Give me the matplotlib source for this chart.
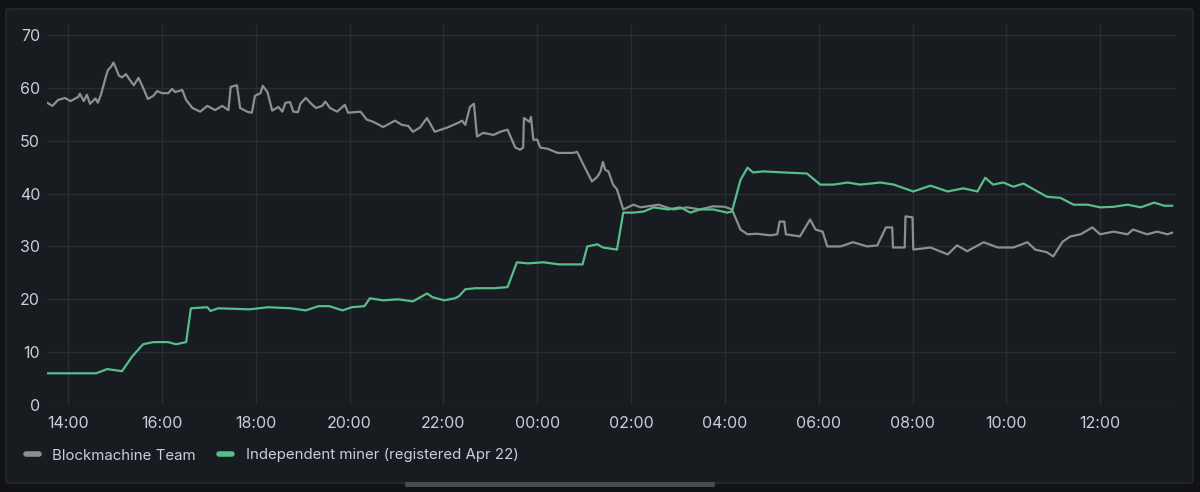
import datetime as dt
import matplotlib
matplotlib.use("Agg")
import matplotlib.pyplot as plt
import matplotlib.dates as mdates
from matplotlib.patches import FancyBboxPatch

plt.rcParams['font.family'] = ['Inter', 'DejaVu Sans']

# Blockmachine Team share (%)
team_times = ["13:33", "13:40", "13:47", "13:56", "14:03", "14:13", "14:15", "14:20", "14:24", "14:28",
              "14:35", "14:38", "14:42", "14:49", "14:51", "14:55", "14:58", "15:01", "15:05", "15:09",
              "15:14", "15:19", "15:24", "15:30", "15:36", "15:42", "15:49", "15:54", "16:00", "16:08",
              "16:13", "16:17", "16:26", "16:31", "16:39", "16:49", "16:58", "17:08", "17:17", "17:25",
              "17:28", "17:36", "17:40", "17:49", "17:55", "17:59", "18:06", "18:09", "18:15", "18:21",
              "18:29", "18:34", "18:38", "18:44", "18:48", "18:54", "18:57", "19:04", "19:11", "19:17",
              "19:25", "19:29", "19:35", "19:44", "19:54", "19:58", "20:14", "20:22", "20:30", "20:43",
              "20:58", "21:07", "21:15", "21:21", "21:30", "21:39", "21:49", "22:05", "22:19", "22:24",
              "22:28", "22:34", "22:39", "22:43", "22:51", "23:04", "23:13", "23:22", "23:32", "23:38",
              "23:42", "23:43", "23:50", "23:52", "23:55", "00:00", "00:04", "00:13", "00:26", "00:38",
              "00:46", "00:51", "00:58", "01:10", "01:17", "01:21", "01:24", "01:27", "01:31", "01:37",
              "01:42", "01:50", "02:03", "02:12", "02:35", "02:54", "03:12", "03:28", "03:45", "04:00",
              "04:09", "04:20", "04:29", "04:41", "04:58", "05:07", "05:10", "05:16", "05:18", "05:36",
              "05:49", "05:56", "06:05", "06:11", "06:28", "06:44", "07:02", "07:15", "07:26", "07:34",
              "07:35", "07:50", "07:51", "08:00", "08:01", "08:23", "08:45", "08:57", "09:10", "09:31",
              "09:49", "10:09", "10:27", "10:37", "10:52", "11:00", "11:12", "11:22", "11:35", "11:50",
              "12:00", "12:17", "12:35", "12:42", "13:00", "13:13", "13:26", "13:32"]
team_vals = [57.2, 56.6, 57.7, 58.1, 57.5, 58.3, 58.9, 57.5, 58.7, 57.0,
             58.0, 57.2, 58.7, 62.5, 63.4, 64.0, 64.8, 63.8, 62.3, 62.0,
             62.6, 61.5, 60.5, 61.9, 60.0, 57.9, 58.5, 59.4, 59.0, 59.0,
             59.8, 59.2, 59.6, 57.7, 56.2, 55.5, 56.6, 55.8, 56.6, 55.8,
             60.2, 60.5, 56.2, 55.5, 55.3, 58.5, 59.0, 60.4, 59.2, 55.7,
             56.4, 55.5, 57.2, 57.3, 55.5, 55.4, 57.0, 58.1, 57.0, 56.2,
             56.6, 57.4, 56.2, 55.5, 56.8, 55.3, 55.5, 54.0, 53.6, 52.6,
             53.8, 53.0, 52.8, 51.7, 52.5, 54.3, 51.7, 52.5, 53.4, 53.8,
             53.0, 56.4, 57.0, 50.8, 51.5, 51.1, 51.7, 52.1, 48.7, 48.3,
             48.7, 54.3, 53.6, 54.5, 50.2, 50.2, 48.7, 48.5, 47.7, 47.7,
             47.7, 47.9, 45.8, 42.3, 43.2, 44.2, 46.0, 44.5, 44.2, 41.7,
             40.8, 37.0, 37.9, 37.4, 37.9, 37.0, 37.4, 37.0, 37.6, 37.5,
             37.0, 33.2, 32.3, 32.4, 32.1, 32.3, 34.7, 34.7, 32.3, 31.9,
             35.1, 33.2, 32.8, 30.0, 30.0, 30.8, 30.0, 30.2, 33.6, 33.6,
             29.8, 29.8, 35.7, 35.5, 29.4, 29.8, 28.5, 30.2, 29.1, 30.8,
             29.8, 29.8, 30.8, 29.4, 28.9, 28.1, 30.9, 31.9, 32.3, 33.6,
             32.3, 32.8, 32.3, 33.2, 32.3, 32.8, 32.3, 32.6]

# Independent miner share (%)
miner_times = ["13:33", "14:36", "14:50", "15:09", "15:22", "15:36", "15:49", "16:08", "16:18", "16:31",
               "16:37", "16:58", "17:02", "17:12", "17:52", "18:16", "18:45", "19:04", "19:20", "19:34",
               "19:51", "20:03", "20:19", "20:26", "20:43", "21:02", "21:21", "21:39", "21:46", "22:01",
               "22:15", "22:20", "22:28", "22:41", "23:05", "23:22", "23:34", "23:48", "00:08", "00:28",
               "00:52", "00:58", "01:04", "01:17", "01:24", "01:42", "01:50", "02:03", "02:16", "02:29",
               "02:47", "03:03", "03:16", "03:28", "03:45", "04:03", "04:09", "04:20", "04:29", "04:36",
               "04:49", "05:15", "05:45", "06:02", "06:19", "06:37", "06:53", "07:19", "07:36", "08:01",
               "08:23", "08:45", "09:05", "09:23", "09:33", "09:43", "09:56", "10:09", "10:22", "10:35",
               "10:52", "11:09", "11:26", "11:44", "12:00", "12:17", "12:35", "12:52", "13:09", "13:22",
               "13:32"]
miner_vals = [6.0, 6.0, 6.8, 6.4, 9.2, 11.5, 11.9, 11.9, 11.5, 11.9,
              18.3, 18.5, 17.8, 18.3, 18.1, 18.5, 18.3, 17.9, 18.7, 18.7,
              17.9, 18.5, 18.7, 20.2, 19.8, 20.0, 19.6, 21.1, 20.4, 19.8,
              20.2, 20.6, 21.9, 22.1, 22.1, 22.3, 27.0, 26.8, 27.0, 26.6,
              26.6, 26.6, 30.0, 30.4, 29.8, 29.4, 36.4, 36.4, 36.6, 37.4,
              37.0, 37.4, 36.4, 37.0, 37.0, 36.4, 36.6, 42.6, 44.9, 44.0,
              44.2, 44.0, 43.8, 41.7, 41.7, 42.1, 41.7, 42.1, 41.7, 40.4,
              41.5, 40.4, 41.0, 40.4, 43.0, 41.7, 42.1, 41.3, 41.9, 40.8,
              39.4, 39.2, 37.9, 37.9, 37.4, 37.5, 37.9, 37.4, 38.3, 37.7,
              37.7]

labels = ["Blockmachine Team", "Independent miner (registered Apr 22)"]
colors = ["#8e8e8e", "#56be8a"]


def to_dt(times):
    # times run past midnight, so roll the day over when the clock goes back
    out = []
    day = dt.date(2024, 4, 22)
    prev = None
    for t in times:
        h, m = map(int, t.split(":"))
        if prev is not None and h * 60 + m < prev:
            day = day + dt.timedelta(days=1)
        prev = h * 60 + m
        out.append(dt.datetime.combine(day, dt.time(h, m)))
    return out


txt = "#ccccdc"
fig = plt.figure(figsize=(12, 4.92), dpi=100, facecolor="#111217")

# panel
fig.patches.append(FancyBboxPatch((6 / 1200, 9 / 492), 1187 / 1200, 474 / 492,
                                  boxstyle="round,pad=0,rounding_size=0.004",
                                  transform=fig.transFigure, facecolor="#181b1f",
                                  edgecolor="#2a2c31", linewidth=1.0, zorder=-2))
# scrollbar thing at bottom
fig.patches.append(FancyBboxPatch((405 / 1200, 5 / 492), 310 / 1200, 5 / 492,
                                  boxstyle="round,pad=0,rounding_size=0.002",
                                  transform=fig.transFigure, facecolor="#4a4c52",
                                  edgecolor="none", zorder=-1))

ax = fig.add_axes([47 / 1200, 87 / 492, 1129 / 1200, 380 / 492])
ax.set_facecolor("none")

ax.plot(to_dt(team_times), team_vals, color=colors[0], lw=1.6, label=labels[0], solid_joinstyle="round")
ax.plot(to_dt(miner_times), miner_vals, color=colors[1], lw=1.6, label=labels[1], solid_joinstyle="round")

ax.set_ylim(0, 71.9)
ax.set_yticks(range(0, 71, 10))
ax.set_xlim(dt.datetime(2024, 4, 22, 13, 33), dt.datetime(2024, 4, 23, 13, 37))
ax.xaxis.set_major_locator(mdates.HourLocator(byhour=range(0, 24, 2)))
ax.xaxis.set_major_formatter(mdates.DateFormatter("%H:%M"))

ax.grid(True, color="#2a2c31", lw=1.0)
ax.set_axisbelow(True)
for s in ax.spines.values():
    s.set_visible(False)
ax.tick_params(length=0, colors=txt, labelsize=11.5)
ax.tick_params(axis="x", pad=8)
ax.tick_params(axis="y", pad=5)

leg = fig.legend(loc="lower left", bbox_to_anchor=(12 / 1200, 16 / 492), ncol=2, frameon=False,
                 fontsize=10.8, handlelength=0.9, handletextpad=0.9, columnspacing=1.5)
for h in leg.get_lines():
    h.set_linewidth(4)
    h.set_solid_capstyle("round")
for t in leg.get_texts():
    t.set_color(txt)

fig.savefig("out.png", dpi=100, facecolor=fig.get_facecolor())
